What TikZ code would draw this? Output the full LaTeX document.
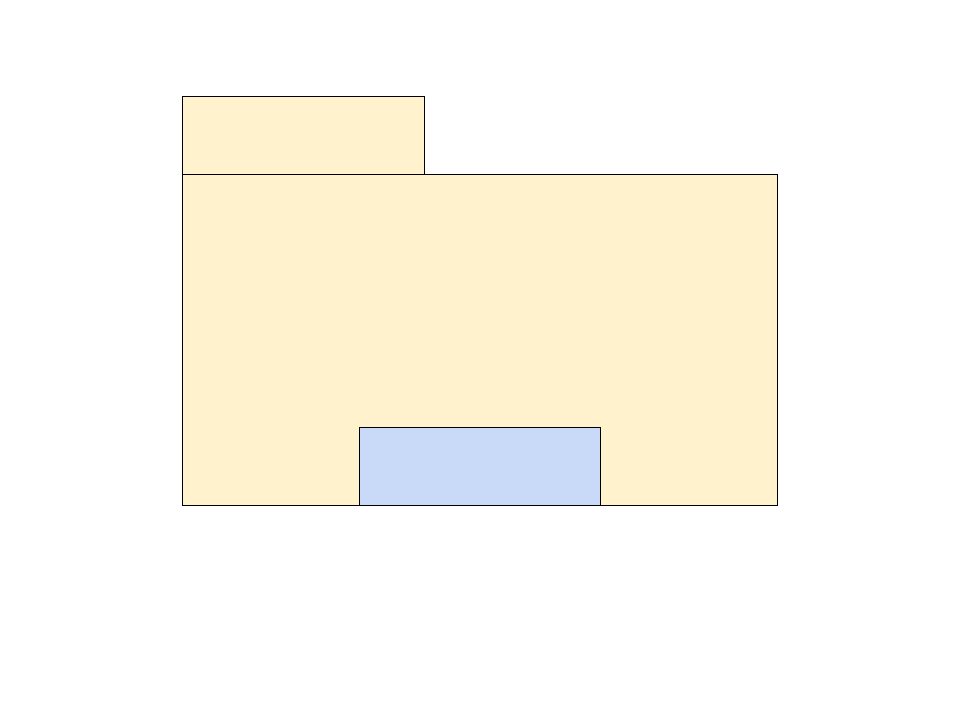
\documentclass[tikz,border=0pt]{standalone}
\definecolor{paleyellow}{HTML}{FFF2CC}
\definecolor{paleblue}{HTML}{C9DAF8}
\begin{document}
\begin{tikzpicture}[x=1pt,y=-1pt,
  yellowbox/.style={fill=paleyellow,draw=black,line width=0.8pt},
  bluebox/.style={fill=paleblue,draw=black,line width=0.8pt}]
\useasboundingbox (0,0) rectangle (960,720);
\path[yellowbox] (182,96) rectangle (424,174);
\path[yellowbox] (182,174) rectangle (777,505);
\path[bluebox] (359,427) rectangle (600,505);
\end{tikzpicture}
\end{document}
